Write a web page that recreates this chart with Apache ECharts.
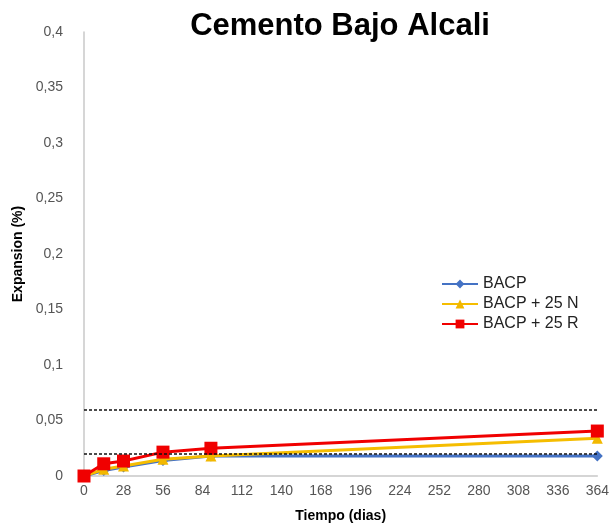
<!DOCTYPE html>
<html>
<head>
<meta charset="utf-8">
<script src="https://cdn.jsdelivr.net/npm/echarts@6/dist/echarts.min.js"></script>
<style>
  html, body { margin: 0; padding: 0; background: #fff; }
</style>
</head>
<body>
<div id="my-chart" style="width: 612px; height: 531px;"></div>
<script>
// dias de ensayo
const dias = [0, 14, 28, 56, 90, 364];
const bacp = [0, 0.005, 0.008, 0.014, 0.018, 0.018];
const bacp25N = [0, 0.006, 0.009, 0.015, 0.018, 0.034];
const bacp25R = [0, 0.011, 0.0135, 0.0215, 0.025, 0.0405];
// limites (lineas punteadas)
const limites = [0.06, 0.02];

const pares = (ys) => dias.map((d, i) => [d, ys[i]]);
const coma = (v) => String(v).replace(".", ",");

const myChart = echarts.init(document.getElementById("my-chart"));
const option = {
  animation: false,
  title: {
    text: "Cemento Bajo Alcali",
    left: 335,
    textAlign: "center",
    top: 6,
    textStyle: {
      fontFamily: "Liberation Sans",
      fontSize: 31,
      fontWeight: "bold",
      color: "#000",
    },
  },
  legend: {
    orient: "vertical",
    left: 436,
    top: 271,
    itemWidth: 36,
    itemHeight: 11,
    itemGap: 4,
    textStyle: {
      fontFamily: "Liberation Sans",
      fontSize: 16,
      color: "#222",
    },
    data: ["BACP", "BACP + 25 N", "BACP + 25 R"],
  },
  grid: {
    left: 84,
    right: 12,
    top: 32,
    bottom: 55,
  },
  xAxis: {
    type: "value",
    min: 0,
    max: 364,
    interval: 28,
    name: "Tiempo (dias)",
    nameLocation: "middle",
    nameGap: 33,
    nameTextStyle: {
      fontFamily: "Liberation Sans",
      fontSize: 14,
      fontWeight: "bold",
      color: "#000",
    },
    axisLine: { lineStyle: { color: "#c8c8c8", width: 1.5 } },
    axisTick: { show: false },
    splitLine: { show: false },
    axisLabel: {
      fontFamily: "Liberation Sans",
      fontSize: 14,
      color: "#555",
      margin: 8,
    },
  },
  yAxis: {
    type: "value",
    min: 0,
    max: 0.4,
    interval: 0.05,
    name: "Expansion (%)",
    nameLocation: "middle",
    nameGap: 58,
    nameTextStyle: {
      fontFamily: "Liberation Sans",
      fontSize: 14,
      fontWeight: "bold",
      color: "#000",
    },
    axisLine: { show: true, lineStyle: { color: "#c8c8c8", width: 1.5 } },
    axisTick: { show: false },
    splitLine: { show: false },
    axisLabel: {
      fontFamily: "Liberation Sans",
      fontSize: 14,
      color: "#555",
      margin: 21,
      formatter: (v) => coma(+v.toFixed(2)),
    },
  },
  series: [
    {
      name: "BACP",
      type: "line",
      data: pares(bacp),
      symbol: "diamond",
      symbolSize: 11,
      itemStyle: { color: "#4472c4" },
      lineStyle: { width: 3, color: "#4472c4" },
      z: 2,
    },
    {
      name: "BACP + 25 N",
      type: "line",
      data: pares(bacp25N),
      symbol: "triangle",
      symbolSize: 11,
      itemStyle: { color: "#f2b800" },
      lineStyle: { width: 3, color: "#f5bd00" },
      z: 3,
    },
    {
      name: "BACP + 25 R",
      type: "line",
      data: pares(bacp25R),
      symbol: "rect",
      symbolSize: 13,
      itemStyle: { color: "#f00000" },
      lineStyle: { width: 3, color: "#f00000" },
      z: 4,
      markLine: {
        silent: true,
        symbol: "none",
        label: { show: false },
        lineStyle: { type: [3, 2], color: "#111", width: 1.5 },
        data: limites.map((v) => ({ yAxis: v })),
        z: 5,
      },
    },
  ],
};
myChart.setOption(option);
</script>
</body>
</html>
